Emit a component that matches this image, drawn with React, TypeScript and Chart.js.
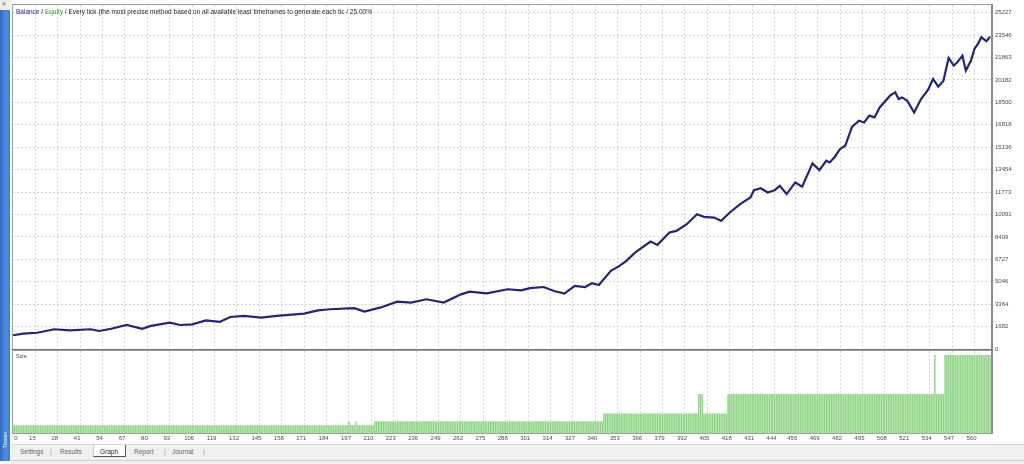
import React, { useEffect, useRef } from "react";
import { Chart, registerables } from "chart.js";

Chart.register(...registerables);

const FONT = '"Liberation Sans", Arial, sans-serif';

// Trade number (x) and balance (y)
const TRADE_IDX = [
  2, 8, 16, 26, 35, 47, 52, 59, 68, 77,
  82, 93, 99, 106, 114, 122, 128, 136, 146, 155,
  171, 179, 186, 200, 206, 215, 225, 233, 242, 252,
  262, 267, 277, 289, 297, 302, 310, 316, 322, 328,
  334, 338, 342, 349, 354, 358, 363, 372, 376, 383,
  387, 393, 399, 403, 409, 413, 418, 424, 430, 432,
  436, 440, 444, 447, 451, 456, 460, 466, 470, 474,
  476, 479, 482, 485, 489, 493, 496, 499, 502, 505,
  511, 514, 516, 518, 521, 525, 529, 533, 536, 539,
  542, 545, 548, 550, 553, 555, 558, 560, 562, 564,
  567, 569,
];
const BALANCE = [
  1030, 1150, 1220, 1480, 1400, 1480, 1350, 1520, 1800, 1520,
  1730, 1970, 1800, 1850, 2150, 2030, 2400, 2480, 2350, 2480,
  2650, 2900, 2980, 3060, 2800, 3100, 3550, 3480, 3730, 3480,
  4100, 4300, 4180, 4480, 4400, 4560, 4650, 4350, 4150, 4730,
  4650, 4930, 4800, 5860, 6230, 6610, 7230, 8060, 7810, 8740,
  8860, 9360, 10110, 9910, 9860, 9610, 10240, 10860, 11360, 11910,
  12060, 11740, 11910, 12240, 11620, 12490, 12170, 13920, 13420, 14120,
  13990, 14420, 15000, 15240, 16670, 17120, 16990, 17500, 17370, 18120,
  19000, 19250, 18750, 18870, 18620, 17740, 18750, 19430, 20250, 19670,
  20120, 21830, 21250, 21500, 22000, 20880, 21630, 22510, 22880, 23380,
  23080, 23430,
];

// Lot size per trade, as runs: a run starts at SIZE_RUN_START[i] with lot SIZE_RUN_LOT[i]
const SIZE_RUN_START = [2, 197, 198, 201, 202, 212, 345, 400, 403, 417, 537, 538, 543];
const SIZE_RUN_LOT = [0.1, 0.15, 0.1, 0.15, 0.1, 0.15, 0.25, 0.5, 0.25, 0.5, 1.0, 0.5, 1.0];
const LAST_TRADE = 569;

const X_LABELS = [
  "0", "15", "28", "41", "54", "67", "80", "93", "106", "119", "132", "145", "158", "171",
  "184", "197", "210", "223", "236", "249", "262", "275", "288", "301", "314", "327", "340",
  "353", "366", "379", "392", "405", "418", "431", "444", "456", "469", "482", "495", "508",
  "521", "534", "547", "560",
];
const Y_LABELS = [
  "0", "1682", "3364", "5046", "6727", "8409", "10091", "11773", "13454", "15136",
  "16818", "18500", "20182", "21863", "23546", "25227",
];

const X_MIN = 2;
const X_MAX = 569.6;
const FIRST_LABEL_AT = 5.5; // where the "0" label sits on the trade axis (left edge label)
const Y_MAX = 25800;
const SIZE_MAX = 1.05;
const GRID = "#d6d6d6";

function sizeBars() {
  const out: { x: number; y: number }[] = [];
  for (let i = 0; i < SIZE_RUN_START.length; i++) {
    const end = i + 1 < SIZE_RUN_START.length ? SIZE_RUN_START[i + 1] : LAST_TRADE + 1;
    for (let t = SIZE_RUN_START[i]; t < end; t++) out.push({ x: t, y: SIZE_RUN_LOT[i] });
  }
  return out;
}

const xTicks = (axis: any) => {
  axis.ticks = X_LABELS.map((l) => ({ value: Math.max(Number(l), FIRST_LABEL_AT) }));
};
const yTicks = (axis: any) => {
  axis.ticks = Y_LABELS.map((l) => ({ value: Number(l) }));
};
const xGridColor = (c: any) => (c.index === 0 ? "rgba(0,0,0,0)" : GRID);
const noPad = (a: any) => {
  a.paddingLeft = 0;
  a.paddingRight = 0;
  a.paddingTop = 0;
  a.paddingBottom = 0;
};

const framePlugin = {
  id: "frame",
  afterDraw(chart: any, _args: any, opts: any) {
    const { ctx, chartArea: a } = chart;
    ctx.save();
    ctx.strokeStyle = "#a0a0a0";
    ctx.lineWidth = 1;
    ctx.strokeRect(Math.round(a.left) - 0.5, Math.round(a.top) - 0.5, Math.round(a.right - a.left) + 1, Math.round(a.bottom - a.top) + 1);
    ctx.fillStyle = "#8c8c8c";
    ctx.fillRect(Math.round(a.right), Math.round(a.top) - 1, 2, Math.round(a.bottom - a.top) + 2);
    if (opts && opts.bottomBar) {
      ctx.fillStyle = "#6e6e6e";
      ctx.fillRect(Math.round(a.left) - 1, Math.round(a.bottom), Math.round(a.right - a.left) + 3, 2);
    }
    ctx.restore();
  },
};

export default function App() {
  const topRef = useRef<HTMLCanvasElement>(null);
  const botRef = useRef<HTMLCanvasElement>(null);

  useEffect(() => {
    Chart.defaults.font.family = FONT;
    const top = new Chart(topRef.current!, {
      type: "line",
      data: {
        datasets: [
          {
            data: TRADE_IDX.map((t, i) => ({ x: t, y: BALANCE[i] })),
            borderColor: "#24247c",
            borderWidth: 2.2,
            pointRadius: 0,
            tension: 0,
            fill: false,
          },
        ],
      },
      options: {
        responsive: false,
        animation: false,
        events: [],
        layout: { padding: { top: 1, left: 1, right: 0, bottom: 11 } },
        plugins: {
          legend: { display: false },
          tooltip: { enabled: false },
          frame: { bottomBar: true },
        } as any,
        scales: {
          x: {
            type: "linear",
            min: X_MIN,
            max: X_MAX,
            afterBuildTicks: xTicks,
            afterFit: (a: any) => {
              a.height = 0;
              noPad(a);
            },
            ticks: { display: false, autoSkip: false },
            grid: { color: xGridColor, drawTicks: false },
            border: { display: false, dash: [2, 2] },
          },
          y: {
            position: "right",
            min: 0,
            max: Y_MAX,
            afterBuildTicks: yTicks,
            afterFit: (a: any) => {
              a.width = 33;
              noPad(a);
            },
            ticks: {
              callback: (_v: any, i: number) => Y_LABELS[i],
              font: { size: 6 },
              color: "#4a4a4a",
              padding: 4,
              autoSkip: false,
            },
            grid: { color: GRID, drawTicks: false },
            border: { display: false, dash: [2, 2] },
          },
        },
      } as any,
      plugins: [framePlugin],
    });

    const bot = new Chart(botRef.current!, {
      type: "bar",
      data: {
        datasets: [
          {
            data: sizeBars(),
            backgroundColor: "#8fd485",
            borderWidth: 0,
            barPercentage: 0.85,
            categoryPercentage: 1,
          },
        ],
      },
      options: {
        responsive: false,
        animation: false,
        events: [],
        layout: { padding: { top: 2, left: 9, right: 0, bottom: 0 } },
        plugins: {
          legend: { display: false },
          tooltip: { enabled: false },
          frame: { bottomBar: false },
        } as any,
        scales: {
          x: {
            type: "linear",
            min: X_MIN,
            max: X_MAX,
            offset: false,
            afterBuildTicks: xTicks,
            afterFit: (a: any) => {
              a.height = 11;
              noPad(a);
            },
            ticks: {
              callback: (_v: any, i: number) => X_LABELS[i],
              font: { size: 6 },
              color: "#4a4a4a",
              padding: 2,
              maxRotation: 0,
              autoSkip: false,
              labelOffset: -3,
            },
            grid: { color: xGridColor, drawTicks: false, offset: false },
            border: { display: false, dash: [2, 2] },
          },
          y: {
            position: "right",
            min: 0,
            max: SIZE_MAX,
            afterFit: (a: any) => {
              a.width = 33;
              noPad(a);
            },
            ticks: { display: false },
            grid: { display: false },
            border: { display: false },
          },
        },
      } as any,
      plugins: [framePlugin],
    });

    return () => {
      top.destroy();
      bot.destroy();
    };
  }, []);

  const tabText: React.CSSProperties = { position: "absolute", top: 448, fontSize: 6.5, color: "#666", lineHeight: "8px" };

  return (
    <div
      style={{
        position: "fixed",
        left: 0,
        top: 0,
        width: 1024,
        height: 464,
        background: "#ffffff",
        overflow: "hidden",
        fontFamily: FONT,
      }}
    >
      <canvas ref={topRef} width={1012} height={356} style={{ position: "absolute", left: 12, top: 4, display: "block" }} />
      <canvas ref={botRef} width={1020} height={95} style={{ position: "absolute", left: 4, top: 349, display: "block" }} />

      {/* side panel */}
      <div style={{ position: "absolute", left: 0, top: 0, width: 11, height: 10, background: "#eeeeee" }} />
      <div style={{ position: "absolute", left: 2, top: 0, fontSize: 7, color: "#555", lineHeight: "8px" }}>×</div>
      <div
        style={{
          position: "absolute",
          left: 0,
          top: 10,
          width: 10,
          height: 451,
          background: "linear-gradient(90deg, #2e6cc4, #4f90e0 60%, #3c7bd2)",
        }}
      />
      <div
        style={{
          position: "absolute",
          left: -9,
          top: 436,
          width: 28,
          height: 8,
          fontSize: 6,
          lineHeight: "8px",
          color: "#e8f0ff",
          transform: "rotate(-90deg)",
          textAlign: "center",
        }}
      >
        Tester
      </div>

      {/* header text */}
      <div
        style={{
          position: "absolute",
          left: 16,
          top: 8,
          fontSize: 6.5,
          lineHeight: "8px",
          whiteSpace: "nowrap",
          color: "#2a2a2a",
        }}
      >
        <span style={{ color: "#1c1c9a" }}>Balance</span> / <span style={{ color: "#2f9a2f" }}>Equity</span> / Every tick (the
        most precise method based on all available least timeframes to generate each tic / 25.00%
      </div>
      <div style={{ position: "absolute", left: 16, top: 353, fontSize: 5.5, lineHeight: "7px", color: "#444" }}>Size</div>

      {/* tab strip */}
      <div style={{ position: "absolute", left: 11, top: 444, width: 1013, height: 20, background: "#f0f0f0", borderTop: "1px solid #d8d8d8" }} />
      <div style={{ position: "absolute", left: 11, top: 460, width: 1013, height: 1, background: "#d0d0d0" }} />
      <div style={{ ...tabText, left: 20 }}>Settings</div>
      <div style={{ ...tabText, left: 50, color: "#999" }}>|</div>
      <div style={{ ...tabText, left: 60 }}>Results</div>
      <div
        style={{
          position: "absolute",
          left: 93,
          top: 445,
          width: 33,
          height: 12,
          background: "#ffffff",
          borderLeft: "1px solid #c8c8c8",
          borderRight: "1px solid #555",
          borderBottom: "1px solid #555",
          boxSizing: "border-box",
        }}
      />
      <div style={{ ...tabText, left: 100, color: "#222" }}>Graph</div>
      <div style={{ ...tabText, left: 134 }}>Report</div>
      <div style={{ ...tabText, left: 164, color: "#999" }}>|</div>
      <div style={{ ...tabText, left: 172 }}>Journal</div>
      <div style={{ ...tabText, left: 203, color: "#999" }}>|</div>
    </div>
  );
}
